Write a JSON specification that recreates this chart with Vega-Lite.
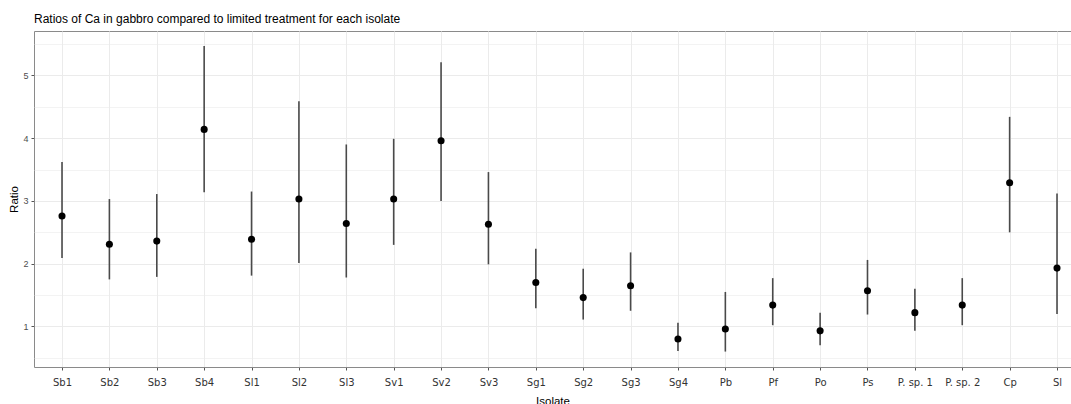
{
  "$schema": "https://vega.github.io/schema/vega-lite/v6.json",
  "width": 1037,
  "height": 336,
  "autosize": {"type": "none"},
  "padding": {"left": 34, "top": 31, "right": 0, "bottom": 37},
  "background": "white",
  "title": {
    "text": "Ratios of Ca in gabbro compared to limited treatment for each isolate",
    "anchor": "start",
    "frame": "group",
    "font": "Liberation Sans",
    "fontSize": 12,
    "fontWeight": "normal",
    "color": "#000000",
    "offset": 5
  },
  "config": {
    "font": "Liberation Sans",
    "view": {"stroke": "#8a8a8a", "strokeWidth": 1}
  },
  "data": {
    "values": [
      {"isolate": "Sb1", "ratio": 2.76, "lower": 2.09, "upper": 3.62},
      {"isolate": "Sb2", "ratio": 2.31, "lower": 1.75, "upper": 3.03},
      {"isolate": "Sb3", "ratio": 2.36, "lower": 1.79, "upper": 3.11},
      {"isolate": "Sb4", "ratio": 4.14, "lower": 3.14, "upper": 5.47},
      {"isolate": "Sl1", "ratio": 2.39, "lower": 1.81, "upper": 3.15},
      {"isolate": "Sl2", "ratio": 3.03, "lower": 2.01, "upper": 4.59},
      {"isolate": "Sl3", "ratio": 2.64, "lower": 1.78, "upper": 3.9},
      {"isolate": "Sv1", "ratio": 3.03, "lower": 2.3, "upper": 3.99},
      {"isolate": "Sv2", "ratio": 3.96, "lower": 3.0, "upper": 5.21},
      {"isolate": "Sv3", "ratio": 2.63, "lower": 1.99, "upper": 3.46},
      {"isolate": "Sg1", "ratio": 1.7, "lower": 1.29, "upper": 2.24},
      {"isolate": "Sg2", "ratio": 1.46, "lower": 1.11, "upper": 1.92},
      {"isolate": "Sg3", "ratio": 1.65, "lower": 1.25, "upper": 2.18},
      {"isolate": "Sg4", "ratio": 0.8, "lower": 0.61, "upper": 1.06},
      {"isolate": "Pb", "ratio": 0.96, "lower": 0.6, "upper": 1.55},
      {"isolate": "Pf", "ratio": 1.34, "lower": 1.02, "upper": 1.77},
      {"isolate": "Po", "ratio": 0.93, "lower": 0.7, "upper": 1.22},
      {"isolate": "Ps", "ratio": 1.57, "lower": 1.19, "upper": 2.06},
      {"isolate": "P. sp. 1", "ratio": 1.22, "lower": 0.93, "upper": 1.6},
      {"isolate": "P. sp. 2", "ratio": 1.34, "lower": 1.02, "upper": 1.77},
      {"isolate": "Cp", "ratio": 3.29, "lower": 2.5, "upper": 4.34},
      {"isolate": "Sl", "ratio": 1.93, "lower": 1.2, "upper": 3.12}
    ]
  },
  "encoding": {
    "x": {
      "field": "isolate",
      "type": "nominal",
      "sort": null,
      "scale": {"type": "point", "padding": 0.4432, "align": 0.667},
      "axis": {
        "title": "Isolate",
        "titleFont": "Liberation Sans",
        "titleFontSize": 11.5,
        "titleFontWeight": "normal",
        "titleColor": "#000000",
        "titlePadding": 8,
        "labelFont": "DejaVu Sans",
        "labelFontSize": 10,
        "labelColor": "#333333",
        "labelAngle": 0,
        "labelPadding": 7,
        "labelOverlap": false,
        "tickSize": 3,
        "tickColor": "#555555",
        "domain": false,
        "grid": true,
        "gridColor": "#ebebeb",
        "gridWidth": 1
      }
    }
  },
  "layer": [
    {
      "mark": {"type": "rule", "color": "#4a4a4a", "strokeWidth": 1.6},
      "encoding": {
        "y": {
          "field": "lower",
          "type": "quantitative",
          "scale": {"domain": [0.354, 5.708], "nice": false, "zero": false},
          "axis": {
            "title": "Ratio",
            "titleFont": "Liberation Sans",
            "titleFontSize": 11.5,
            "titleFontWeight": "normal",
            "titleColor": "#000000",
            "titlePadding": 3,
            "values": [1, 2, 3, 4, 5],
            "labelFont": "Liberation Sans",
            "labelFontSize": 9,
            "labelColor": "#4d4d4d",
            "labelPadding": 3,
            "labelOverlap": false,
            "tickSize": 3,
            "tickColor": "#555555",
            "domain": false,
            "grid": true,
            "gridColor": "#ebebeb",
            "gridWidth": 1.1
          }
        },
        "y2": {"field": "upper"}
      }
    },
    {
      "mark": {"type": "point", "filled": true, "color": "#000000", "opacity": 1, "size": 50, "shape": "circle"},
      "encoding": {
        "y": {
          "field": "ratio",
          "type": "quantitative",
          "axis": {
            "orient": "right",
            "title": null,
            "values": [0.5, 1.5, 2.5, 3.5, 4.5, 5.5],
            "labels": false,
            "ticks": false,
            "domain": false,
            "grid": true,
            "gridColor": "#ebebeb",
            "gridWidth": 0.6
          }
        }
      }
    }
  ],
  "resolve": {"axis": {"y": "independent"}}
}
